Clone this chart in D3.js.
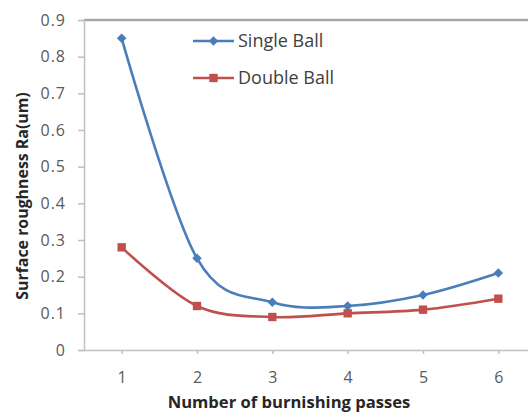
<!DOCTYPE html>
<html>
<head>
<meta charset="utf-8">
<script src="https://cdn.jsdelivr.net/npm/d3@7"></script>
<style>
html,body{margin:0;padding:0;background:#fff;}
svg{display:block;font-family:"Open Sans",sans-serif;}
</style>
</head>
<body>
<svg id="chart" width="528" height="414"></svg>
<script>
const passes = [1, 2, 3, 4, 5, 6];
const singleBall = [0.85, 0.25, 0.13, 0.12, 0.15, 0.21];
const doubleBall = [0.28, 0.12, 0.09, 0.10, 0.11, 0.14];
const yTicks = [0, 0.1, 0.2, 0.3, 0.4, 0.5, 0.6, 0.7, 0.8, 0.9];
const seriesNames = ["Single Ball", "Double Ball"];
const xTitle = "Number of burnishing passes";
const yTitle = "Surface roughness Ra(um)";

(function () {
const svg = d3.select("#chart");
const pLeft = 84, pRight = 536, pTop = 20, pBottom = 350;

const x = d3.scalePoint().domain(passes).range([pLeft, pRight]).padding(0.5);
const y = d3.scaleLinear().domain([0, 0.9]).range([pBottom, pTop]);

// top border of plot area
svg.append("line").attr("x1", pLeft).attr("x2", 528).attr("y1", y(0.9)).attr("y2", y(0.9))
  .attr("stroke", "#a6a6a6").attr("stroke-width", 2.5);

// y axis
const yAxis = svg.append("g").attr("transform", `translate(${pLeft},0)`)
  .call(d3.axisLeft(y).tickValues(yTicks).tickSize(6).tickPadding(12)
    .tickFormat(d => d === 0 ? "0" : d3.format(".1f")(d)));
yAxis.select(".domain").attr("stroke", "#c0c0c0").attr("stroke-width", 1.5);
yAxis.selectAll(".tick line").attr("stroke", "#c0c0c0").attr("stroke-width", 1.5);
yAxis.selectAll("text").attr("fill", "#595959").style("font-size", "16px")
  .style("font-family", "Open Sans").style("letter-spacing", "1px");

// x axis
const xAxis = svg.append("g").attr("transform", `translate(0,${pBottom})`)
  .call(d3.axisBottom(x).tickSize(4).tickSizeOuter(0).tickPadding(18));
xAxis.select(".domain").attr("stroke", "#c0c0c0").attr("stroke-width", 1.5);
xAxis.selectAll(".tick line").attr("stroke", "#c0c0c0").attr("stroke-width", 1.5);
xAxis.selectAll("text").attr("fill", "#595959").style("font-size", "16px").style("font-family", "Open Sans");

// titles
svg.append("text").attr("x", 289).attr("y", 408).attr("text-anchor", "middle")
  .attr("font-weight", "bold").attr("font-size", 16.6).attr("fill", "#262626").text(xTitle);
svg.append("text").attr("transform", "translate(28,196) rotate(-90)").attr("text-anchor", "middle")
  .attr("font-weight", "bold").attr("font-size", 15.9).attr("fill", "#262626").text(yTitle);

const colors = ["#4a7ebb", "#c0504d"];
const data = [singleBall, doubleBall];
const line = d3.line().x((d, i) => x(passes[i])).y(d => y(d)).curve(d3.curveCardinal.tension(0));

data.forEach((vals, s) => {
  svg.append("path").attr("d", line(vals)).attr("fill", "none")
    .attr("stroke", colors[s]).attr("stroke-width", 2.6);
});
// markers
const diamond = d3.symbol().type(d3.symbolDiamond2).size(58);
const square = d3.symbol().type(d3.symbolSquare).size(70);
svg.append("g").selectAll("path").data(singleBall).join("path")
  .attr("transform", (d, i) => `translate(${x(passes[i])},${y(d)})`)
  .attr("d", diamond()).attr("fill", colors[0]);
svg.append("g").selectAll("path").data(doubleBall).join("path")
  .attr("transform", (d, i) => `translate(${x(passes[i])},${y(d)})`)
  .attr("d", square()).attr("fill", colors[1]);

// legend
const lg = svg.append("g");
seriesNames.forEach((name, i) => {
  const ly = 41 + i * 37;
  lg.append("line").attr("x1", 193).attr("x2", 234).attr("y1", ly).attr("y2", ly)
    .attr("stroke", colors[i]).attr("stroke-width", 2.6);
  lg.append("path").attr("transform", `translate(213.5,${ly})`)
    .attr("d", (i === 0 ? diamond : square)()).attr("fill", colors[i]);
  lg.append("text").attr("x", 238).attr("y", ly).attr("dy", "0.35em")
    .attr("font-size", 18).attr("fill", "#404040").text(name);
});
})();
</script>
</body>
</html>
